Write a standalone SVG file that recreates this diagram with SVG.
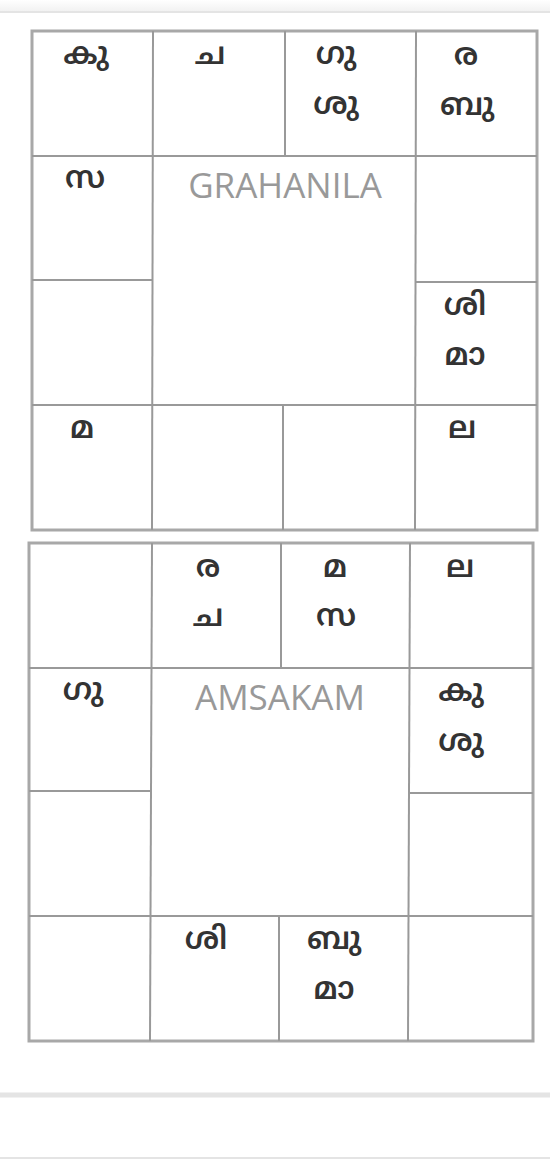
<svg xmlns="http://www.w3.org/2000/svg" width="550" height="1163" viewBox="0 0 550 1163">
<defs>
<linearGradient id="topShade" x1="0" y1="0" x2="0" y2="1">
<stop offset="0" stop-color="#ffffff"/>
<stop offset="1" stop-color="#f2f2f2"/>
</linearGradient>
<style>
.outer{fill:#ffffff;stroke:#a8a8a8;stroke-width:3}
.grid{stroke:#999999;stroke-width:2;fill:none}
.ml{font-family:"Noto Sans Malayalam","Noto Sans","DejaVu Sans",sans-serif;font-size:31px;font-weight:600;fill:#333333;text-anchor:middle}
.title{font-family:"Open Sans","Liberation Sans",sans-serif;font-size:35px;fill:#999999;text-anchor:middle}
.sep{stroke:#e4e4e4;fill:none}
</style>
</defs>
<rect x="0" y="0" width="550" height="1163" fill="#ffffff"/>
<rect x="0" y="0" width="550" height="11" fill="url(#topShade)"/>
<line class="sep" x1="0" y1="12" x2="550" y2="12" stroke-width="2"/>
<line class="sep" x1="0" y1="1095" x2="550" y2="1095" stroke-width="5"/>
<line class="sep" x1="0" y1="1158" x2="550" y2="1158" stroke-width="2"/>

<g id="grahanila">
<rect class="outer" x="32" y="31" width="505" height="499"/>
<g class="grid">
<line x1="32" y1="156" x2="537" y2="156"/>
<line x1="32" y1="405" x2="537" y2="405"/>
<line x1="32" y1="280" x2="153" y2="280"/>
<line x1="416" y1="282" x2="537" y2="282"/>
<line x1="153" y1="31" x2="152" y2="530"/>
<line x1="416" y1="31" x2="415" y2="530"/>
<line x1="285" y1="31" x2="285" y2="156"/>
<line x1="283" y1="405" x2="283" y2="530"/>
</g>
<text class="title" x="285" y="198">GRAHANILA</text>
<g id="g-h1"><text class="ml" x="86" y="64">കു</text></g>
<g id="g-h2"><text class="ml" x="210" y="64">ച</text></g>
<g id="g-h3"><text class="ml" x="336" y="64">ഗു</text><text class="ml" x="336" y="114">ശു</text></g>
<g id="g-h4"><text class="ml" x="466" y="65">ര</text><text class="ml" x="467" y="115">ബു</text></g>
<g id="g-h12"><text class="ml" x="85" y="188">സ</text></g>
<g id="g-h6"><text class="ml" x="465" y="315">ശി</text><text class="ml" x="465" y="365">മാ</text></g>
<g id="g-h10"><text class="ml" x="82" y="438">മ</text></g>
<g id="g-h7"><text class="ml" x="462" y="438">ല</text></g>
</g>

<g id="amsakam">
<rect class="outer" x="29" y="543" width="504" height="498"/>
<g class="grid">
<line x1="29" y1="668" x2="533" y2="668"/>
<line x1="29" y1="916" x2="533" y2="916"/>
<line x1="29" y1="791" x2="151" y2="791"/>
<line x1="409" y1="793" x2="533" y2="793"/>
<line x1="152" y1="543" x2="150" y2="1041"/>
<line x1="410" y1="543" x2="408" y2="1041"/>
<line x1="281" y1="543" x2="281" y2="668"/>
<line x1="279" y1="916" x2="279" y2="1041"/>
</g>
<text class="title" x="280" y="710">AMSAKAM</text>
<g id="a-h2"><text class="ml" x="208" y="577">ര</text><text class="ml" x="208" y="626">ച</text></g>
<g id="a-h3"><text class="ml" x="335" y="577">മ</text><text class="ml" x="336" y="626">സ</text></g>
<g id="a-h4"><text class="ml" x="460" y="577">ല</text></g>
<g id="a-h12"><text class="ml" x="83" y="700">ഗു</text></g>
<g id="a-h5"><text class="ml" x="461" y="701">കു</text><text class="ml" x="461" y="751">ശു</text></g>
<g id="a-h9"><text class="ml" x="206" y="949">ശി</text></g>
<g id="a-h8"><text class="ml" x="334" y="949">ബു</text><text class="ml" x="334" y="999">മാ</text></g>
</g>
</svg>
